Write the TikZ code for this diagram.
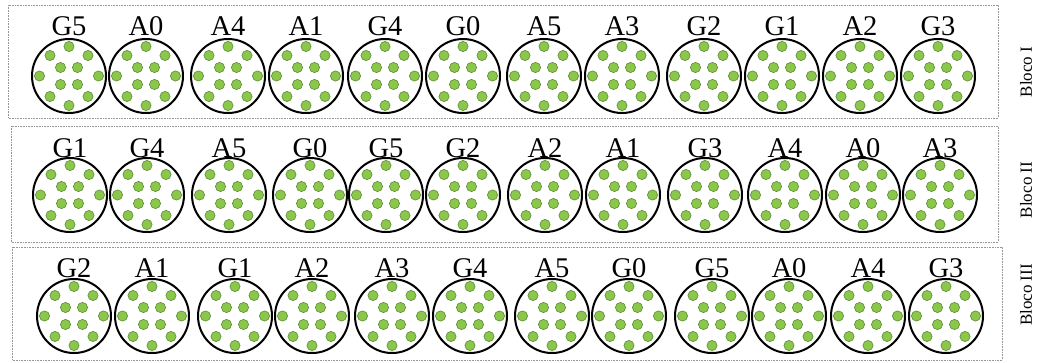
\documentclass[tikz,border=0pt]{standalone}
\usepackage{fontspec}
\setmainfont{Liberation Serif}
\definecolor{dotfill}{RGB}{139,199,74}
\definecolor{dotedge}{RGB}{92,140,52}
\definecolor{boxgray}{RGB}{150,150,150}
\begin{document}
\begin{tikzpicture}[x=1pt,y=-1pt,
  plotc/.style={circle,draw=black,line width=2pt,minimum size=74pt,inner sep=0pt},
  trt/.style={font=\fontsize{28.5}{28.5}\selectfont,anchor=base,inner sep=0pt},
  dotc/.style={fill=dotfill,draw=dotedge,line width=0.6pt},
  blockbox/.style={draw=boxgray,densely dotted,line width=0.6pt},
  blocklab/.style={rotate=90,font=\fontsize{17}{17}\selectfont,inner sep=0pt}]
\useasboundingbox (0,0) rectangle (1047,362);
% block frames
\draw[blockbox] (8,5) rectangle (998,118);
\draw[blockbox] (11,126) rectangle (998,242);
\draw[blockbox] (12,247) rectangle (1002,360);
% block labels
\node[blocklab] (b1) at (1026,72) {Bloco I};
\node[blocklab] (b2) at (1026,190) {Bloco II};
\node[blocklab] (b3) at (1026,295) {Bloco III};
\newcommand{\plotrow}[4]{%
  \foreach \x/\lab [count=\i] in {#4} {
    \node[plotc] (c#1\i) at (\x,#2) {};
    \node[trt] (l#1\i) at (\x,#3) {\lab};
    \foreach \dx/\dy in {0/-29.5,0/29.5,-29.5/0,29.5/0,-19/-20.5,19/-20.5,-19/20.5,19/20.5,-8.5/-8.5,8.5/-8.5,-8.5/8.5,8.5/8.5}
      \draw[dotc] (\x+\dx,#2+\dy) circle (5.1);
  }}
\plotrow{a}{76}{35}{69/G5,146/A0,228/A4,306/A1,385/G4,463/G0,544/A5,622/A3,704/G2,782/G1,860/A2,938/G3}
\plotrow{b}{195}{157}{70/G1,147/G4,229/A5,310/G0,386/G5,463/G2,545/A2,623/A1,705/G3,785/A4,863/A0,940/A3}
\plotrow{c}{316}{277}{74/G2,152/A1,235/G1,312/A2,392/A3,470/G4,552/A5,629/G0,712/G5,789/A0,868/A4,946/G3}
\end{tikzpicture}
\end{document}
